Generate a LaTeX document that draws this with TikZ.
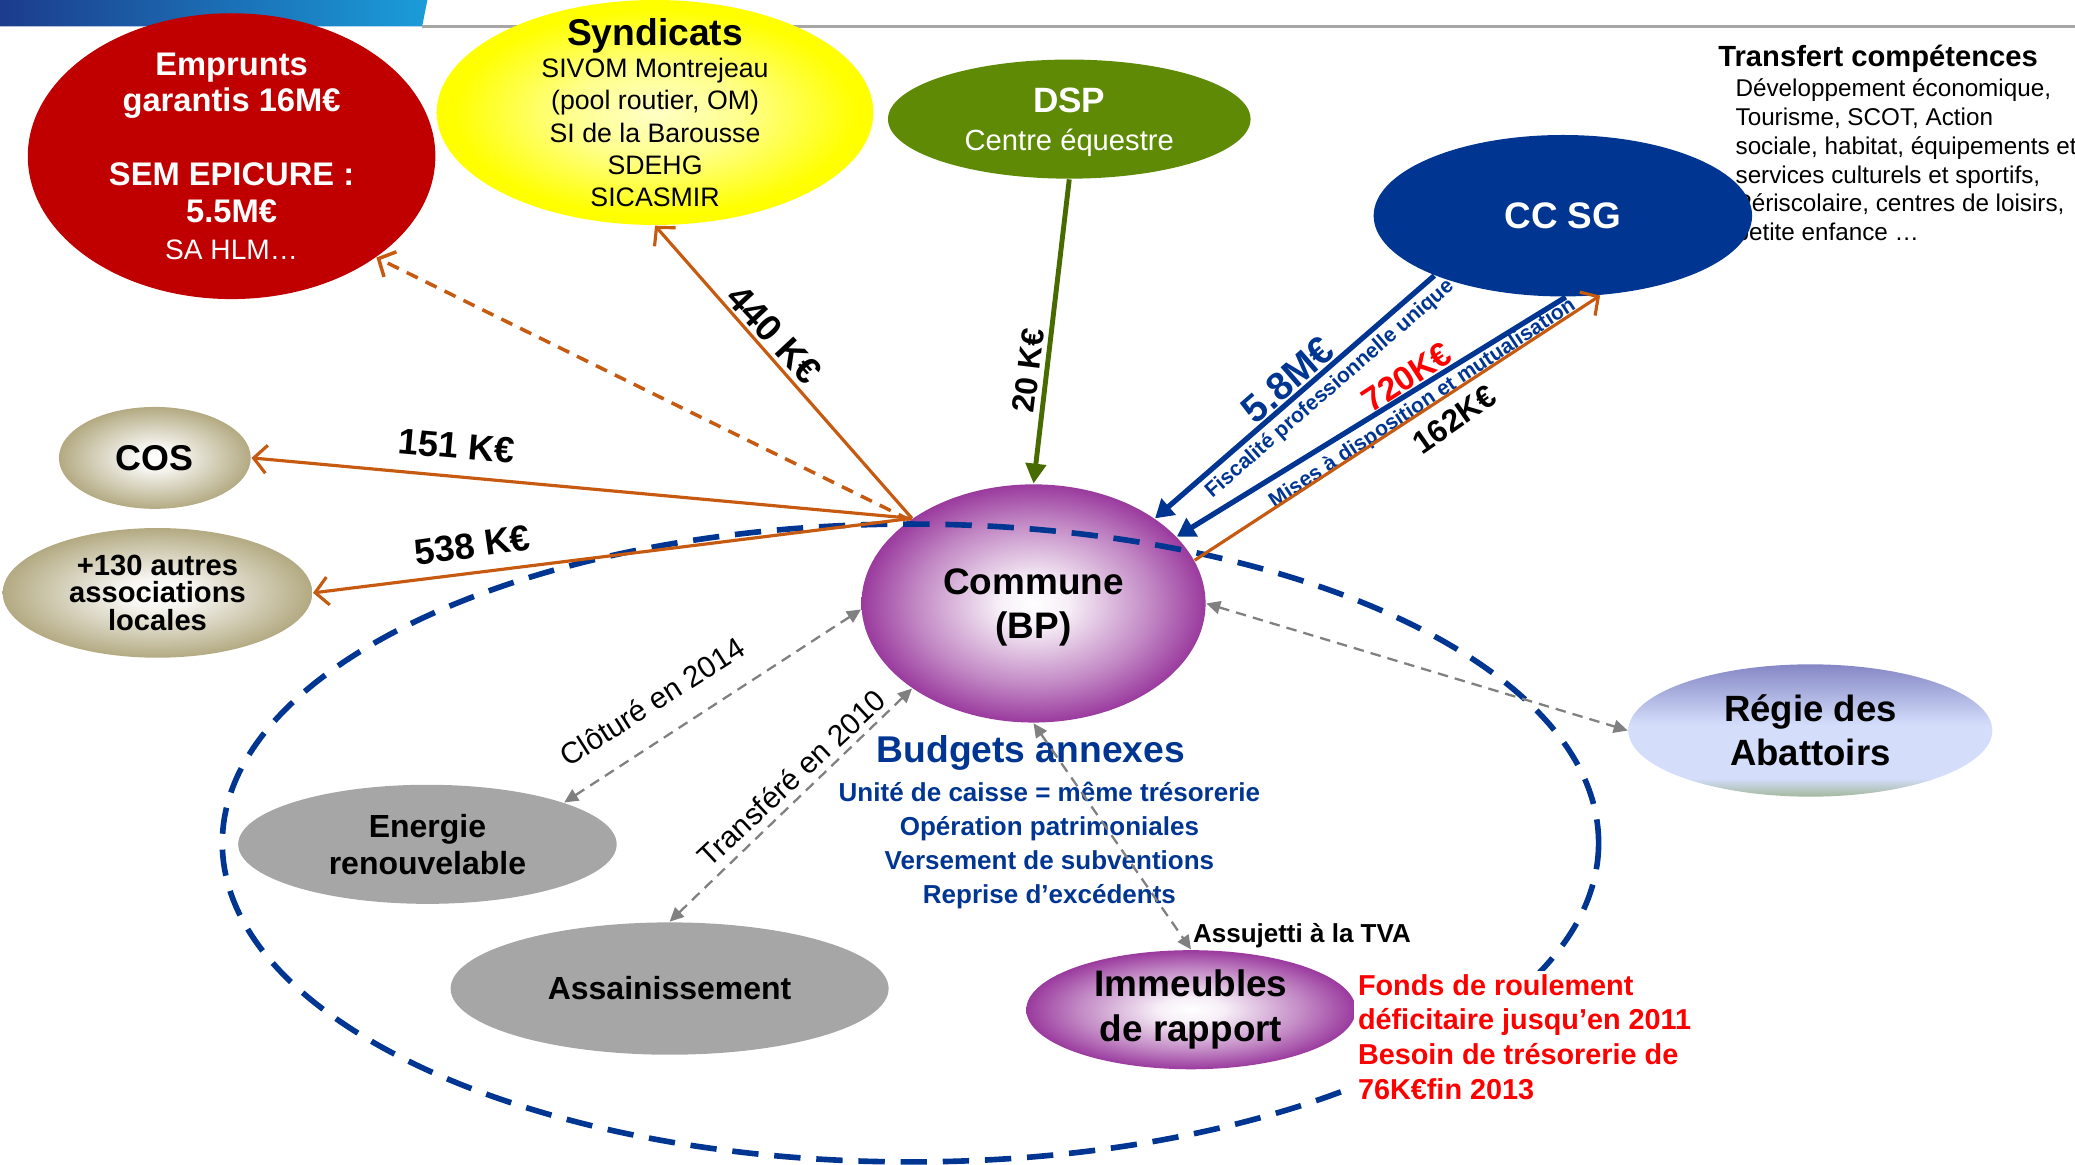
\documentclass[tikz,border=0pt]{standalone}
\usepackage{fontspec}
\setmainfont{Liberation Sans}
\usepackage{tikz}
\usetikzlibrary{shapes.geometric,arrows.meta,positioning}
\definecolor{hdrdark}{HTML}{1C3C8C}
\definecolor{hdrlight}{HTML}{1B9CD9}
\definecolor{hdrline}{HTML}{A6A6A6}
\definecolor{empred}{HTML}{C00000}
\definecolor{syndyellow}{HTML}{FFFF00}
\definecolor{dspgreen}{HTML}{5E8A06}
\definecolor{arrowgreen}{HTML}{476B00}
\definecolor{ccblue}{HTML}{003591}
\definecolor{assockhaki}{HTML}{B3AA82}
\definecolor{budpurple}{HTML}{9A3A9E}
\definecolor{budgray}{HTML}{A6A6A6}
\definecolor{flowgray}{HTML}{808080}
\definecolor{floworange}{HTML}{C65A11}
\definecolor{regietop}{HTML}{8587C5}
\definecolor{regiemid}{HTML}{D4DEFB}
\definecolor{regiebot}{HTML}{A3B99E}
\definecolor{alertred}{HTML}{FF0000}

\newcommand{\fsz}[2]{\fontsize{#1}{#2}\selectfont}

\pgfdeclareradialshading{purpleglow}{\pgfpoint{0bp}{0bp}}{color(0bp)=(white); color(5bp)=(budpurple!8!white); color(17bp)=(budpurple!60!white); color(25bp)=(budpurple); color(50bp)=(budpurple)}
\pgfdeclareradialshading{khakiglow}{\pgfpoint{0bp}{0bp}}{color(0bp)=(white); color(6bp)=(assockhaki!12!white); color(25bp)=(assockhaki); color(50bp)=(assockhaki)}
\pgfdeclareradialshading{yellowglow}{\pgfpoint{0bp}{0bp}}{color(0bp)=(syndyellow!22!white); color(10bp)=(syndyellow!45!white); color(23bp)=(syndyellow); color(50bp)=(syndyellow)}
\pgfdeclareverticalshading{regieglow}{100bp}{color(0bp)=(regiebot); color(25bp)=(regiebot); color(32bp)=(regiemid); color(52bp)=(regiemid); color(75bp)=(regietop); color(100bp)=(regietop)}

\begin{document}
\begin{tikzpicture}[x=0.13233mm, y=-0.13233mm, >=Stealth,
  bubble/.style={ellipse, inner sep=0pt, align=center},
  bsize/.style 2 args={minimum width=#1*0.13233mm, minimum height=#2*0.13233mm},
  turned/.style={rotate=#1, inner sep=0pt},
  amount/.style={font=\bfseries\fsz{10.3}{12}},
  orangeflow/.style={draw=floworange, line width=0.9pt, -{Straight Barb[length=1.3mm,width=2.8mm]}},
  blueflow/.style={draw=ccblue, line width=1.5pt, -{Triangle[length=1.8mm,width=2.1mm]}},
  greenflow/.style={draw=arrowgreen, line width=1.4pt, -{Triangle[length=2mm,width=2mm]}},
  grayflow/.style={draw=flowgray, line width=0.65pt, dash pattern=on 3pt off 2pt,
    {Triangle[length=1.4mm,width=1.3mm]}-{Triangle[length=1.4mm,width=1.3mm]}}]
  \useasboundingbox (0,0) rectangle (1568,880);

  % Bandeau
  \shade[left color=hdrdark, right color=hdrlight] (0,0) -- (323,0) -- (319,20) -- (0,20) -- cycle;
  \draw[hdrline, line width=0.6pt] (319,20) -- (1568,20);

  % Transfert de competences
  \node[anchor=base west, inner sep=0pt, font=\bfseries\fsz{8.3}{10}] (transfert) at (1298,50) {Transfert compétences};
  \node[anchor=north west, inner sep=0pt, align=left, font=\fsz{6.9}{8.2}] (transfbody) at (1311,59) {Développement économique,\\Tourisme, SCOT, Action\\sociale, habitat, équipements et\\services culturels et sportifs,\\Périscolaire, centres de loisirs,\\petite enfance …};

  % Flux CC SG
  \node[turned=41, font=\bfseries\fsz{11}{13}, text=ccblue] (lbl58) at (973,287) {5.8M€};
  \node[turned=41, font=\bfseries\fsz{6}{7}, text=ccblue] (lblfisc) at (1005,294) {Fiscalité professionnelle unique};
  \node[turned=33, font=\bfseries\fsz{9.6}{11}, text=alertred] (lbl720) at (1063,285) {720K€};
  \node[turned=33.5, font=\bfseries\fsz{6}{7}, text=ccblue] (lblmises) at (1075,305) {Mises à disposition et mutualisation};
  \node[turned=35, font=\bfseries\fsz{9}{11}] (lbl162) at (1099,317) {162K€};

  % Bulles
  \node[bubble, bsize={308}{216}, fill=empred, text=white, inner ysep=-2pt, font=\bfseries\fsz{9.3}{10.5}] (emprunts) at (175,118) {Emprunts\\garantis 16M€\\[10.5pt]SEM EPICURE :\\5.5M€\\{\mdseries\fsz{8}{10.5}SA HLM…}};
  \node[bubble, bsize={330}{170}, shade, shading=yellowglow, inner ysep=-7pt, font=\fsz{7.6}{9.2}] (synd) at (495,85) {{\bfseries\fsz{10.6}{9.2}Syndicats}\\SIVOM Montrejeau\\(pool routier, OM)\\SI de la Barousse\\SDEHG\\SICASMIR};
  \node[bubble, bsize={274}{90}, fill=dspgreen, text=white, text depth=0pt, font=\fsz{8.3}{10.7}] (dsp) at (808,90) {{\bfseries\fsz{10}{10.7}DSP}\\Centre équestre};
  \node[bubble, bsize={286}{122}, fill=ccblue, text=white, font=\bfseries\fsz{10.5}{12}] (ccsg) at (1181,163) {CC SG};
  \node[bubble, bsize={145}{77}, shade, shading=khakiglow, font=\bfseries\fsz{10.2}{12}] (cos) at (117,346) {COS};
  \node[bubble, bsize={234}{98}, shade, shading=khakiglow, font=\bfseries\fsz{8.3}{7.9}] (assoc) at (119,448) {+130 autres\\associations\\locales};
  \node[bubble, bsize={260}{180}, shade, shading=purpleglow, text depth=0pt, font=\bfseries\fsz{10.5}{12.4}] (commune) at (781,456) {Commune\\(BP)};
  \node[bubble, bsize={275}{100}, shade, shading=regieglow, font=\bfseries\fsz{10.4}{12.4}] (regie) at (1368,552) {Régie des\\Abattoirs};
  \node[bubble, bsize={286}{90}, fill=budgray, font=\bfseries\fsz{9.1}{10.5}] (energie) at (323,638) {Energie\\renouvelable};
  \node[bubble, bsize={331}{100}, fill=budgray, font=\bfseries\fsz{9.1}{10.5}] (assain) at (506,747) {Assainissement};
  \node[bubble, bsize={249}{90}, shade, shading=purpleglow, font=\bfseries\fsz{10.5}{12.8}] (immeubles) at (900,763) {Immeubles\\de rapport};

  % Perimetre budgets annexes
  \draw[ccblue, line width=1.6pt, dash pattern=on 7.5pt off 4.5pt] (688,637) ellipse (520 and 241);
  \node[anchor=north west, align=left, fill=white, inner sep=1pt, text=alertred, font=\bfseries\fsz{8.2}{9.9}] (fonds) at (1023,733) {Fonds de roulement\\déficitaire jusqu’en 2011\\Besoin de trésorerie de\\76K€fin 2013};

  % Textes
  \node[font=\bfseries\fsz{10.6}{12}, text=ccblue] (budgets) at (779,569) {Budgets annexes};
  \node[align=center, font=\bfseries\fsz{7.4}{9.7}, text=ccblue] (annexlist) at (793,639) {Unité de caisse = même trésorerie\\Opération patrimoniales\\Versement de subventions\\Reprise d’excédents};
  \node[anchor=west, inner sep=0pt, font=\bfseries\fsz{7.4}{9}] (tva) at (901,707) {Assujetti à la TVA};
  \node[turned=-5, amount] (lbl151) at (345,337) {151 K€};
  \node[turned=8, amount] (lbl538) at (357,412) {538 K€};
  \node[turned=-47, font=\bfseries\fsz{10.5}{12}] (lbl440) at (585,253) {440 K€};
  \node[turned=83, font=\bfseries\fsz{9}{11}] (lbl20) at (777,280) {20 K€};
  \node[turned=32.5, font=\fsz{8.5}{10}] (lblclot) at (493,530) {Clôturé en 2014};
  \node[turned=43, font=\fsz{8.5}{10}] (lbltransf) at (598,588) {Transféré en 2010};

  % Flux sortants
  \draw[orangeflow] (commune.145) -- (cos.east);
  \draw[orangeflow] (commune.145) -- (assoc.east);
  \draw[orangeflow] (commune.145) -- (synd.south);
  \draw[orangeflow, line width=1pt, dash pattern=on 3.5pt off 2.5pt] (commune.146) -- (emprunts.-35);

  % Flux CC SG et DSP
  \draw[blueflow] (ccsg.-155) -- (commune.35);
  \draw[blueflow] (ccsg.-88) -- (commune.25);
  \draw[orangeflow] (commune.15) -- (ccsg.-65);
  \draw[greenflow] (dsp.south) -- (commune.north);

  % Liens budgets annexes
  \draw[grayflow] (energie.17) -- (commune.182);
  \draw[grayflow] (assain.north) -- (commune.-145);
  \draw[grayflow] (commune.east) -- (regie.west);
  \draw[grayflow] (commune.south) -- (immeubles.north);
\end{tikzpicture}
\end{document}
